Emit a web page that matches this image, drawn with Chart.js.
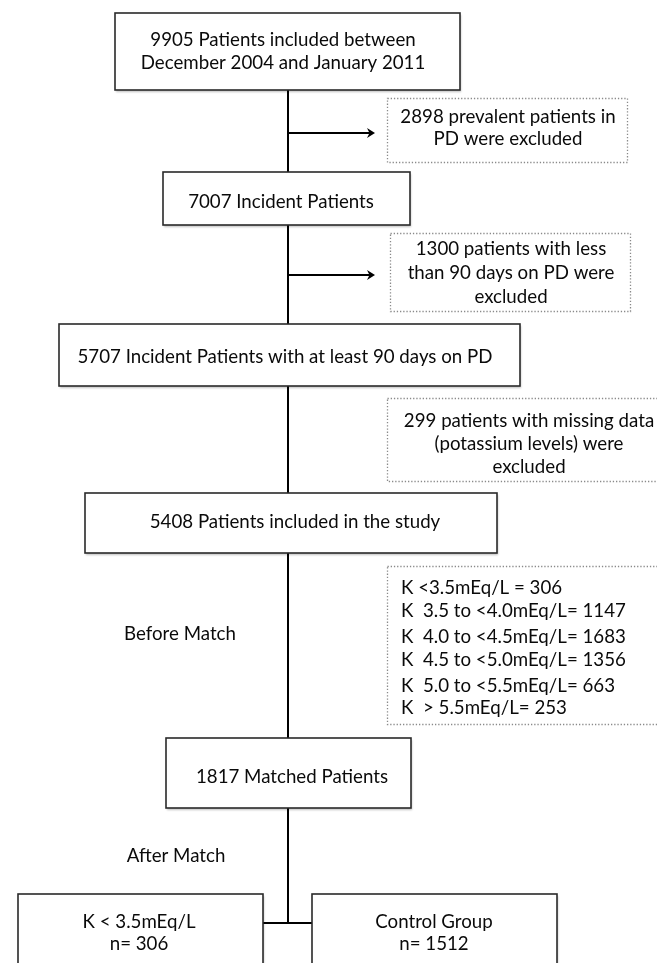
<!DOCTYPE html>
<html>
<head>
<meta charset="utf-8">
<script src="https://cdn.jsdelivr.net/npm/chart.js@4.4.1/dist/chart.umd.min.js"></script>
<style>
  html, body { margin: 0; padding: 0; background: #ffffff; }
  #wrap { width: 657px; height: 963px; }
</style>
</head>
<body>
<div id="wrap"><canvas id="c" width="657" height="963"></canvas></div>
<script>
// ---------------- DATA ----------------
const stageCounts = [9905, 7007, 5707, 5408, 1817];
const stageTexts = [
  ["Patients included between", "December 2004 and January 2011"],
  ["Incident Patients"],
  ["Incident Patients with at least 90 days on PD"],
  ["Patients included in the study"],
  ["Matched Patients"]
];
const exclusionCounts = [2898, 1300, 299];
const exclusionTexts = [
  ["prevalent patients in", "PD were excluded"],
  ["patients with less", "than 90 days on PD were", "excluded"],
  ["patients with missing data", "(potassium levels) were", "excluded"]
];
const potassiumCategories = ["K <3.5mEq/L = ", "K  3.5 to <4.0mEq/L= ", "K  4.0 to <4.5mEq/L= ",
  "K  4.5 to <5.0mEq/L= ", "K  5.0 to <5.5mEq/L= ", "K  > 5.5mEq/L= "];
const potassiumCounts = [306, 1147, 1683, 1356, 663, 253];
const phaseLabels = ["Before Match", "After Match"];
const groupLabels = ["K < 3.5mEq/L", "Control Group"];
const groupCounts = [306, 1512];

// ---------------- LAYOUT (positions in canvas units) ----------------
const FONT = '18.7px Lato, "Open Sans", sans-serif';
const TEXT = '#0a0a0a';
const layout = {
  spineX: 288,
  stages: [
    { box: [115, 13, 460, 90],  cx: 283, ys: [46, 69] },
    { box: [163, 172, 410, 225], cx: 281, ys: [208] },
    { box: [59, 324, 520, 386],  cx: 285, ys: [363] },
    { box: [85, 493, 497, 553],  cx: 295, ys: [528] },
    { box: [166, 738, 411, 808], cx: 292, ys: [783] }
  ],
  exclusions: [
    { box: [387, 98, 627, 162],  cx: 508, ys: [123, 145], arrowY: 133 },
    { box: [390, 233, 630, 311], cx: 511, ys: [255, 279, 303], arrowY: 275 },
    { box: [387, 398, 662, 481], cx: 529, ys: [427, 450, 473], arrowY: null }
  ],
  kBox: { box: [387, 566, 662, 724], x: 401, ys: [594, 617, 643, 666, 692, 714] },
  phases: [ { cx: 180, y: 640 }, { cx: 176, y: 862 } ],
  groups: [
    { box: [18, 894, 263, 990],  cx: 139, ys: [928, 950] },
    { box: [312, 894, 557, 990], cx: 434, ys: [928, 950] }
  ],
  splitY: 923,
  arrowEnd: 375
};

// ---------------- PLUGIN ----------------
const flowPlugin = {
  id: 'flow',
  afterDraw(chart) {
    const ctx = chart.ctx;
    const xs = chart.scales.x, ys = chart.scales.y;
    const X = v => xs.getPixelForValue(v);
    const Y = v => ys.getPixelForValue(v);

    ctx.save();
    ctx.strokeStyle = '#000';
    ctx.lineWidth = 2;
    ctx.setLineDash([]);
    const st = layout.stages;
    const seg = (x1, y1, x2, y2) => { ctx.beginPath(); ctx.moveTo(X(x1), Y(y1)); ctx.lineTo(X(x2), Y(y2)); ctx.stroke(); };
    for (let i = 0; i < st.length - 1; i++) seg(layout.spineX, st[i].box[3], layout.spineX, st[i + 1].box[1]);
    seg(layout.spineX, st[st.length - 1].box[3], layout.spineX, layout.splitY);
    seg(layout.groups[0].box[2], layout.splitY, layout.groups[1].box[0], layout.splitY);

    layout.exclusions.forEach(e => {
      if (e.arrowY == null) return;
      seg(layout.spineX, e.arrowY, layout.arrowEnd - 3, e.arrowY);
      ctx.fillStyle = '#000';
      ctx.beginPath();
      ctx.moveTo(X(layout.arrowEnd), Y(e.arrowY));
      ctx.lineTo(X(layout.arrowEnd - 8), Y(e.arrowY - 5));
      ctx.lineTo(X(layout.arrowEnd - 5.5), Y(e.arrowY));
      ctx.lineTo(X(layout.arrowEnd - 8), Y(e.arrowY + 5));
      ctx.closePath();
      ctx.fill();
    });

    const solidBox = b => {
      const x = X(b[0]), y = Y(b[1]), w = X(b[2]) - x, h = Y(b[3]) - y;
      ctx.save();
      ctx.shadowColor = 'rgba(0,0,0,0.25)';
      ctx.shadowBlur = 2;
      ctx.shadowOffsetX = 1;
      ctx.shadowOffsetY = 1.5;
      ctx.fillStyle = '#fff';
      ctx.fillRect(x, y, w, h);
      ctx.restore();
      ctx.strokeStyle = '#2a2a2a';
      ctx.lineWidth = 1.6;
      ctx.setLineDash([]);
      ctx.strokeRect(x, y, w, h);
    };
    const dottedBox = b => {
      const x = Math.round(X(b[0])) + 0.5, y = Math.round(Y(b[1])) + 0.5;
      const w = Math.round(X(b[2]) - X(b[0])), h = Math.round(Y(b[3]) - Y(b[1]));
      ctx.strokeStyle = '#8a8a8a';
      ctx.lineWidth = 1.3;
      ctx.setLineDash([1.3, 1.9]);
      ctx.strokeRect(x, y, w, h);
      ctx.setLineDash([]);
    };

    st.forEach(s => solidBox(s.box));
    layout.groups.forEach(g => solidBox(g.box));
    layout.exclusions.forEach(e => dottedBox(e.box));
    dottedBox(layout.kBox.box);

    ctx.fillStyle = TEXT;
    ctx.font = FONT;
    ctx.textBaseline = 'alphabetic';
    ctx.textAlign = 'center';
    st.forEach((s, i) => {
      const lines = stageTexts[i].slice();
      lines[0] = stageCounts[i] + ' ' + lines[0];
      lines.forEach((t, j) => ctx.fillText(t, X(s.cx), Y(s.ys[j])));
    });
    layout.exclusions.forEach((e, i) => {
      const lines = exclusionTexts[i].slice();
      lines[0] = exclusionCounts[i] + ' ' + lines[0];
      lines.forEach((t, j) => ctx.fillText(t, X(e.cx), Y(e.ys[j])));
    });
    layout.phases.forEach((p, i) => ctx.fillText(phaseLabels[i], X(p.cx), Y(p.y)));
    layout.groups.forEach((g, i) => {
      ctx.fillText(groupLabels[i], X(g.cx), Y(g.ys[0]));
      ctx.fillText('n= ' + groupCounts[i], X(g.cx), Y(g.ys[1]));
    });
    ctx.textAlign = 'left';
    potassiumCategories.forEach((c, i) => {
      ctx.fillText(c + potassiumCounts[i], X(layout.kBox.x), Y(layout.kBox.ys[i]));
    });
    ctx.restore();
  }
};

new Chart(document.getElementById('c'), {
  type: 'scatter',
  data: { datasets: [{ data: [], pointRadius: 0 }] },
  options: {
    responsive: false,
    animation: false,
    devicePixelRatio: 1,
    layout: { padding: 0 },
    plugins: { legend: { display: false }, tooltip: { enabled: false }, title: { display: false } },
    scales: {
      x: { type: 'linear', min: 0, max: 657, display: false },
      y: { type: 'linear', min: 0, max: 963, reverse: true, display: false }
    }
  },
  plugins: [flowPlugin]
});
</script>
</body>
</html>
